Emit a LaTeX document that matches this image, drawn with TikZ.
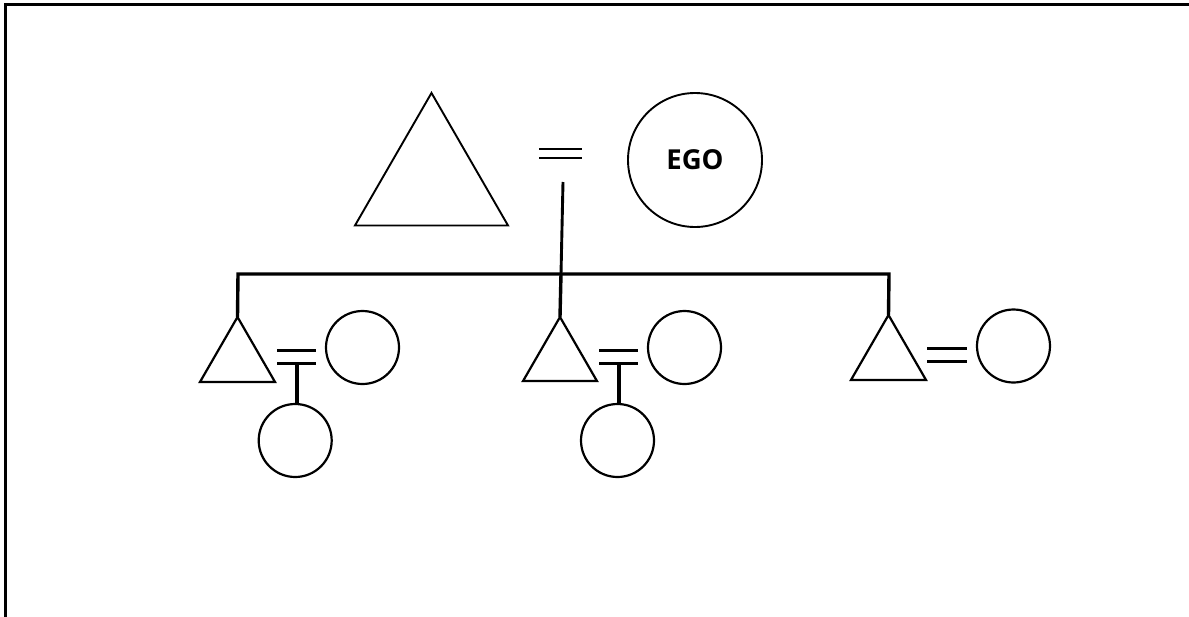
\documentclass[tikz,border=0pt]{standalone}
\usepackage{fontspec}
\newfontfamily\egofont{Open Sans}
\usetikzlibrary{shapes.geometric}
\begin{document}
\begin{tikzpicture}[x=1pt,y=-1pt,
  outline/.style={draw=black, line width=2.2pt},
  male/.style={outline, regular polygon, regular polygon sides=3, inner sep=0pt, outer sep=0pt},
  female/.style={outline, circle, inner sep=0pt, outer sep=0pt},
  marriage/.style={line width=3pt},
  descent/.style={line width=3.2pt},
  sibling/.style={line width=3.4pt},
]
\useasboundingbox (0,0) rectangle (1189,616);
\clip (0,0) rectangle (1189,616);
% page frame (only its upper-left corner lies inside the page)
\draw[line width=2.8pt] (5.5,660) -- (5.5,4.5) -- (1230,4.5);

% first generation: husband and EGO
\node[male, line width=1.9pt, minimum size=176.7pt] (husband) at (431.5,181.3) {};
\node[female, line width=1.9pt, minimum size=134pt,
      font=\egofont\bfseries\fontsize{27.5}{30}\selectfont] (ego) at (695,160) {EGO};
\draw[line width=2.5pt] (539,149) -- (582,149) (539,158) -- (582,158);
\coordinate (m0) at (563,182);
\coordinate (bar) at (561,274);
\draw[descent, line width=2.9pt] (m0) -- (bar);

% second generation: three sons
\node[male, minimum size=86.6pt] (s1) at (237.5,360.3) {};
\node[male, minimum size=85.4pt] (s2) at (560,359.7) {};
\node[male, minimum size=86.6pt] (s3) at (888.5,358.3) {};
\coordinate (b1) at (238,274);
\coordinate (b3) at (889,274);
\draw[sibling] (s1.corner 1) -- (b1) -- (b3) -- (s3.corner 1);
\draw[sibling] (bar) -- (s2.corner 1);

% their wives
\node[female, minimum size=73pt] (w1) at (362.5,347.5) {};
\node[female, minimum size=73pt] (w2) at (684.5,347.5) {};
\node[female, minimum size=73pt] (w3) at (1013.5,346) {};

% marriage signs
\draw[marriage] (277,350) -- (316,350) (277,363) -- (316,363);
\draw[marriage] (599,350) -- (638,350) (599,363) -- (638,363);
\draw[marriage] (927,348) -- (967,348) (927,361) -- (967,361);

% third generation: daughters
\node[female, minimum size=73pt] (d1) at (295.2,440.5) {};
\node[female, minimum size=73pt] (d2) at (617.5,440.5) {};
\coordinate (m1) at (297,363);
\coordinate (m2) at (619,363);
\draw[descent] (m1) -- (m1 |- d1.north);
\draw[descent] (m2) -- (m2 |- d2.north);
\end{tikzpicture}
\end{document}
